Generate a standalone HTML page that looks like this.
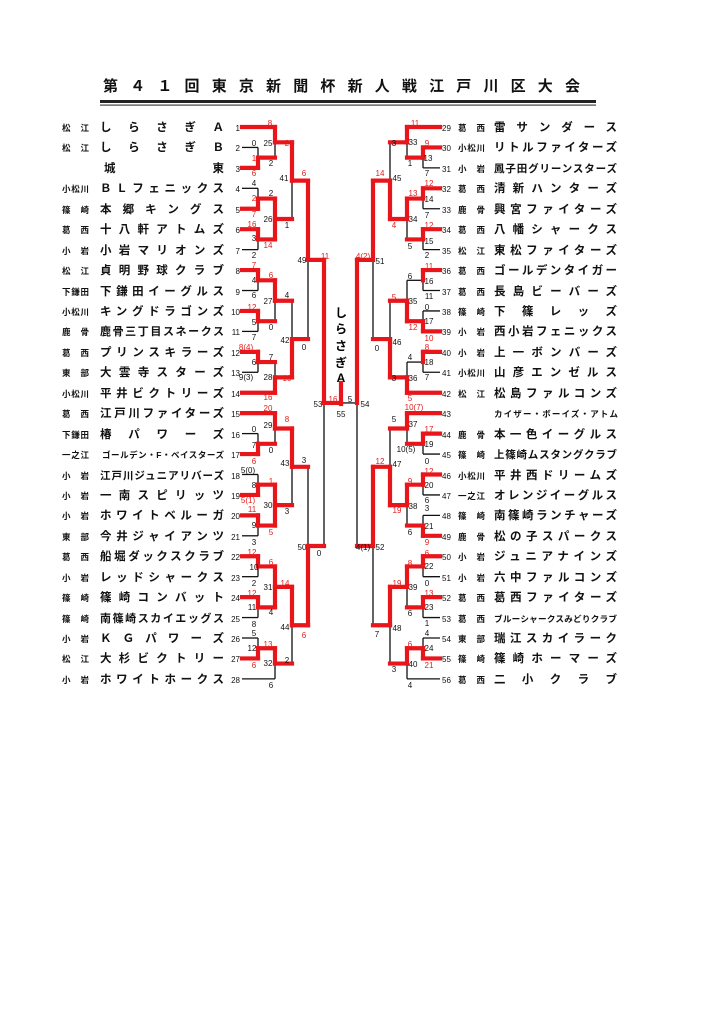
<!DOCTYPE html>
<html><head><meta charset="utf-8">
<style>
html,body{margin:0;padding:0;background:#fff;}
svg{display:block;}
text{font-family:"Liberation Sans","Noto Sans CJK JP",sans-serif;}
.t{font-size:15px;font-weight:bold;fill:#111;}
.p{font-size:8.5px;font-weight:bold;fill:#111;}
.n{font-size:11.5px;font-weight:bold;fill:#111;}
.s{font-size:7.5px;fill:#111;}
.num{font-size:8px;fill:#111;}
.sc{font-size:8px;text-anchor:middle;fill:#111;}
.r{fill:#e0201c;}
</style></head>
<body>
<svg id="sv" width="724" height="1024" viewBox="0 0 724 1024" xmlns="http://www.w3.org/2000/svg">
<rect width="724" height="1024" fill="#fff"/>
<text class="t" x="103" y="91" textLength="477" lengthAdjust="spacing">第４１回東京新聞杯新人戦江戸川区大会</text>
<rect x="100" y="100" width="496" height="3" fill="#222"/>
<rect x="100" y="104.5" width="496" height="1.2" fill="#444"/>
<g id="lines"></g>
<!-- left teams -->
<g>
<text class="p" x="62" y="131" textLength="27" lengthAdjust="spacing">松江</text><text class="n" x="100" y="131" textLength="124" lengthAdjust="spacing">しらさぎＡ</text><text class="num" x="240" y="131" text-anchor="end">1</text>
<text class="p" x="62" y="151" textLength="27" lengthAdjust="spacing">松江</text><text class="n" x="100" y="151" textLength="124" lengthAdjust="spacing">しらさぎＢ</text><text class="num" x="240" y="151" text-anchor="end">2</text>
<text class="n" x="104" y="172" textLength="120" lengthAdjust="spacing">城東</text><text class="num" x="240" y="172" text-anchor="end">3</text>
<text class="p" x="62" y="192" textLength="27" lengthAdjust="spacing">小松川</text><text class="n" x="100" y="192" textLength="124" lengthAdjust="spacing">ＢＬフェニックス</text><text class="num" x="240" y="192" text-anchor="end">4</text>
<text class="p" x="62" y="213" textLength="27" lengthAdjust="spacing">篠崎</text><text class="n" x="100" y="213" textLength="124" lengthAdjust="spacing">本郷キングス</text><text class="num" x="240" y="213" text-anchor="end">5</text>
<text class="p" x="62" y="233" textLength="27" lengthAdjust="spacing">葛西</text><text class="n" x="100" y="233" textLength="124" lengthAdjust="spacing">十八軒アトムズ</text><text class="num" x="240" y="233" text-anchor="end">6</text>
<text class="p" x="62" y="254" textLength="27" lengthAdjust="spacing">小岩</text><text class="n" x="100" y="254" textLength="124" lengthAdjust="spacing">小岩マリオンズ</text><text class="num" x="240" y="254" text-anchor="end">7</text>
<text class="p" x="62" y="274" textLength="27" lengthAdjust="spacing">松江</text><text class="n" x="100" y="274" textLength="124" lengthAdjust="spacing">貞明野球クラブ</text><text class="num" x="240" y="274" text-anchor="end">8</text>
<text class="p" x="62" y="295" textLength="27" lengthAdjust="spacing">下鎌田</text><text class="n" x="100" y="295" textLength="124" lengthAdjust="spacing">下鎌田イーグルス</text><text class="num" x="240" y="295" text-anchor="end">9</text>
<text class="p" x="62" y="315" textLength="27" lengthAdjust="spacing">小松川</text><text class="n" x="100" y="315" textLength="124" lengthAdjust="spacing">キングドラゴンズ</text><text class="num" x="240" y="315" text-anchor="end">10</text>
<text class="p" x="62" y="335" textLength="27" lengthAdjust="spacing">鹿骨</text><text class="n" x="100" y="335" textLength="124" lengthAdjust="spacing" style="font-size:11px">鹿骨三丁目スネークス</text><text class="num" x="240" y="335" text-anchor="end">11</text>
<text class="p" x="62" y="356" textLength="27" lengthAdjust="spacing">葛西</text><text class="n" x="100" y="356" textLength="124" lengthAdjust="spacing">プリンスキラーズ</text><text class="num" x="240" y="356" text-anchor="end">12</text>
<text class="p" x="62" y="376" textLength="27" lengthAdjust="spacing">東部</text><text class="n" x="100" y="376" textLength="124" lengthAdjust="spacing">大雲寺スターズ</text><text class="num" x="240" y="376" text-anchor="end">13</text>
<text class="p" x="62" y="397" textLength="27" lengthAdjust="spacing">小松川</text><text class="n" x="100" y="397" textLength="124" lengthAdjust="spacing">平井ビクトリーズ</text><text class="num" x="240" y="397" text-anchor="end">14</text>
<text class="p" x="62" y="417" textLength="27" lengthAdjust="spacing">葛西</text><text class="n" x="100" y="417" textLength="124" lengthAdjust="spacing">江戸川ファイターズ</text><text class="num" x="240" y="417" text-anchor="end">15</text>
<text class="p" x="62" y="438" textLength="27" lengthAdjust="spacing">下鎌田</text><text class="n" x="100" y="438" textLength="124" lengthAdjust="spacing">椿パワーズ</text><text class="num" x="240" y="438" text-anchor="end">16</text>
<text class="p" x="62" y="458" textLength="27" lengthAdjust="spacing">一之江</text><text class="n" x="102" y="458" textLength="122" lengthAdjust="spacing" style="font-size:8.5px">ゴールデン・F・ベイスターズ</text><text class="num" x="240" y="458" text-anchor="end">17</text>
<text class="p" x="62" y="479" textLength="27" lengthAdjust="spacing">小岩</text><text class="n" x="100" y="479" textLength="124" lengthAdjust="spacing" style="font-size:10.5px">江戸川ジュニアリバーズ</text><text class="num" x="240" y="479" text-anchor="end">18</text>
<text class="p" x="62" y="499" textLength="27" lengthAdjust="spacing">小岩</text><text class="n" x="100" y="499" textLength="124" lengthAdjust="spacing">一南スピリッツ</text><text class="num" x="240" y="499" text-anchor="end">19</text>
<text class="p" x="62" y="519" textLength="27" lengthAdjust="spacing">小岩</text><text class="n" x="100" y="519" textLength="124" lengthAdjust="spacing">ホワイトベルーガ</text><text class="num" x="240" y="519" text-anchor="end">20</text>
<text class="p" x="62" y="540" textLength="27" lengthAdjust="spacing">東部</text><text class="n" x="100" y="540" textLength="124" lengthAdjust="spacing">今井ジャイアンツ</text><text class="num" x="240" y="540" text-anchor="end">21</text>
<text class="p" x="62" y="560" textLength="27" lengthAdjust="spacing">葛西</text><text class="n" x="100" y="560" textLength="124" lengthAdjust="spacing">船堀ダックスクラブ</text><text class="num" x="240" y="560" text-anchor="end">22</text>
<text class="p" x="62" y="581" textLength="27" lengthAdjust="spacing">小岩</text><text class="n" x="100" y="581" textLength="124" lengthAdjust="spacing">レッドシャークス</text><text class="num" x="240" y="581" text-anchor="end">23</text>
<text class="p" x="62" y="601" textLength="27" lengthAdjust="spacing">篠崎</text><text class="n" x="100" y="601" textLength="124" lengthAdjust="spacing">篠崎コンバット</text><text class="num" x="240" y="601" text-anchor="end">24</text>
<text class="p" x="62" y="622" textLength="27" lengthAdjust="spacing">篠崎</text><text class="n" x="100" y="622" textLength="124" lengthAdjust="spacing" style="font-size:11px">南篠崎スカイエッグス</text><text class="num" x="240" y="622" text-anchor="end">25</text>
<text class="p" x="62" y="642" textLength="27" lengthAdjust="spacing">小岩</text><text class="n" x="100" y="642" textLength="124" lengthAdjust="spacing">ＫＧパワーズ</text><text class="num" x="240" y="642" text-anchor="end">26</text>
<text class="p" x="62" y="662" textLength="27" lengthAdjust="spacing">松江</text><text class="n" x="100" y="662" textLength="124" lengthAdjust="spacing">大杉ビクトリー</text><text class="num" x="240" y="662" text-anchor="end">27</text>
<text class="p" x="62" y="683" textLength="27" lengthAdjust="spacing">小岩</text><text class="n" x="100" y="683" textLength="124" lengthAdjust="spacing">ホワイトホークス</text><text class="num" x="240" y="683" text-anchor="end">28</text>
</g>
<!-- right teams -->
<g>
<text class="num" x="442" y="131">29</text><text class="p" x="458" y="131" textLength="27" lengthAdjust="spacing">葛西</text><text class="n" x="494" y="131" textLength="123" lengthAdjust="spacing">雷サンダース</text>
<text class="num" x="442" y="151">30</text><text class="p" x="458" y="151" textLength="27" lengthAdjust="spacing">小松川</text><text class="n" x="494" y="151" textLength="123" lengthAdjust="spacing">リトルファイターズ</text>
<text class="num" x="442" y="172">31</text><text class="p" x="458" y="172" textLength="27" lengthAdjust="spacing">小岩</text><text class="n" x="494" y="172" textLength="123" lengthAdjust="spacing" style="font-size:10.5px">鳳子田グリーンスターズ</text>
<text class="num" x="442" y="192">32</text><text class="p" x="458" y="192" textLength="27" lengthAdjust="spacing">葛西</text><text class="n" x="494" y="192" textLength="123" lengthAdjust="spacing">清新ハンターズ</text>
<text class="num" x="442" y="213">33</text><text class="p" x="458" y="213" textLength="27" lengthAdjust="spacing">鹿骨</text><text class="n" x="494" y="213" textLength="123" lengthAdjust="spacing">興宮ファイターズ</text>
<text class="num" x="442" y="233">34</text><text class="p" x="458" y="233" textLength="27" lengthAdjust="spacing">葛西</text><text class="n" x="494" y="233" textLength="123" lengthAdjust="spacing">八幡シャークス</text>
<text class="num" x="442" y="254">35</text><text class="p" x="458" y="254" textLength="27" lengthAdjust="spacing">松江</text><text class="n" x="494" y="254" textLength="123" lengthAdjust="spacing">東松ファイターズ</text>
<text class="num" x="442" y="274">36</text><text class="p" x="458" y="274" textLength="27" lengthAdjust="spacing">葛西</text><text class="n" x="494" y="274" textLength="123" lengthAdjust="spacing">ゴールデンタイガー</text>
<text class="num" x="442" y="295">37</text><text class="p" x="458" y="295" textLength="27" lengthAdjust="spacing">葛西</text><text class="n" x="494" y="295" textLength="123" lengthAdjust="spacing">長島ビーバーズ</text>
<text class="num" x="442" y="315">38</text><text class="p" x="458" y="315" textLength="27" lengthAdjust="spacing">篠崎</text><text class="n" x="494" y="315" textLength="123" lengthAdjust="spacing">下篠レッズ</text>
<text class="num" x="442" y="335">39</text><text class="p" x="458" y="335" textLength="27" lengthAdjust="spacing">小岩</text><text class="n" x="494" y="335" textLength="123" lengthAdjust="spacing">西小岩フェニックス</text>
<text class="num" x="442" y="356">40</text><text class="p" x="458" y="356" textLength="27" lengthAdjust="spacing">小岩</text><text class="n" x="494" y="356" textLength="123" lengthAdjust="spacing">上一ボンバーズ</text>
<text class="num" x="442" y="376">41</text><text class="p" x="458" y="376" textLength="27" lengthAdjust="spacing">小松川</text><text class="n" x="494" y="376" textLength="123" lengthAdjust="spacing">山彦エンゼルス</text>
<text class="num" x="442" y="397">42</text><text class="p" x="458" y="397" textLength="27" lengthAdjust="spacing">松江</text><text class="n" x="494" y="397" textLength="123" lengthAdjust="spacing">松島ファルコンズ</text>
<text class="num" x="442" y="417">43</text><text class="n" x="494" y="417" textLength="124" lengthAdjust="spacing" style="font-size:8.5px">カイザー・ボーイズ・アトム</text>
<text class="num" x="442" y="438">44</text><text class="p" x="458" y="438" textLength="27" lengthAdjust="spacing">鹿骨</text><text class="n" x="494" y="438" textLength="123" lengthAdjust="spacing">本一色イーグルス</text>
<text class="num" x="442" y="458">45</text><text class="p" x="458" y="458" textLength="27" lengthAdjust="spacing">篠崎</text><text class="n" x="494" y="458" textLength="123" lengthAdjust="spacing" style="font-size:10.5px">上篠崎ムスタングクラブ</text>
<text class="num" x="442" y="479">46</text><text class="p" x="458" y="479" textLength="27" lengthAdjust="spacing">小松川</text><text class="n" x="494" y="479" textLength="123" lengthAdjust="spacing">平井西ドリームズ</text>
<text class="num" x="442" y="499">47</text><text class="p" x="458" y="499" textLength="27" lengthAdjust="spacing">一之江</text><text class="n" x="494" y="499" textLength="123" lengthAdjust="spacing">オレンジイーグルス</text>
<text class="num" x="442" y="519">48</text><text class="p" x="458" y="519" textLength="27" lengthAdjust="spacing">篠崎</text><text class="n" x="494" y="519" textLength="123" lengthAdjust="spacing">南篠崎ランチャーズ</text>
<text class="num" x="442" y="540">49</text><text class="p" x="458" y="540" textLength="27" lengthAdjust="spacing">鹿骨</text><text class="n" x="494" y="540" textLength="123" lengthAdjust="spacing">松の子スパークス</text>
<text class="num" x="442" y="560">50</text><text class="p" x="458" y="560" textLength="27" lengthAdjust="spacing">小岩</text><text class="n" x="494" y="560" textLength="123" lengthAdjust="spacing">ジュニアナインズ</text>
<text class="num" x="442" y="581">51</text><text class="p" x="458" y="581" textLength="27" lengthAdjust="spacing">小岩</text><text class="n" x="494" y="581" textLength="123" lengthAdjust="spacing">六中ファルコンズ</text>
<text class="num" x="442" y="601">52</text><text class="p" x="458" y="601" textLength="27" lengthAdjust="spacing">葛西</text><text class="n" x="494" y="601" textLength="123" lengthAdjust="spacing">葛西ファイターズ</text>
<text class="num" x="442" y="622">53</text><text class="p" x="458" y="622" textLength="27" lengthAdjust="spacing">葛西</text><text class="n" x="494" y="622" textLength="123" lengthAdjust="spacing" style="font-size:8.6px">ブルーシャークスみどりクラブ</text>
<text class="num" x="442" y="642">54</text><text class="p" x="458" y="642" textLength="27" lengthAdjust="spacing">東部</text><text class="n" x="494" y="642" textLength="123" lengthAdjust="spacing">瑞江スカイラーク</text>
<text class="num" x="442" y="662">55</text><text class="p" x="458" y="662" textLength="27" lengthAdjust="spacing">篠崎</text><text class="n" x="494" y="662" textLength="123" lengthAdjust="spacing">篠崎ホーマーズ</text>
<text class="num" x="442" y="683">56</text><text class="p" x="458" y="683" textLength="27" lengthAdjust="spacing">葛西</text><text class="n" x="494" y="683" textLength="123" lengthAdjust="spacing">二小クラブ</text>
</g>
<!-- champion vertical -->
<g style="font-size:12px;font-weight:bold" text-anchor="middle">
<text x="341" y="317">し</text><text x="341" y="333">ら</text><text x="341" y="350">さ</text><text x="341" y="367">ぎ</text><text x="341" y="382">A</text>
</g>
<!-- scores -->
<g>
<text class="sc r" x="270" y="126">8</text><text class="sc" x="254" y="146">0</text><text class="sc" x="268" y="146">25</text><text class="sc r" x="287" y="146">2</text>
<text class="sc r" x="254" y="161">1</text><text class="sc" x="271" y="166">2</text><text class="sc r" x="254" y="176">6</text><text class="sc" x="284" y="181">41</text><text class="sc r" x="304" y="176">6</text>
<text class="sc" x="254" y="186">4</text><text class="sc r" x="254" y="201">2</text><text class="sc" x="271" y="196">2</text><text class="sc r" x="254" y="217">7</text><text class="sc" x="268" y="222">26</text><text class="sc" x="287" y="228">1</text>
<text class="sc r" x="252" y="227">16</text><text class="sc" x="254" y="241">3</text><text class="sc r" x="268" y="248">14</text><text class="sc" x="254" y="258">2</text><text class="sc" x="302" y="263">49</text><text class="sc r" x="325" y="259">11</text>
<text class="sc r" x="254" y="268">7</text><text class="sc" x="254" y="283">4</text><text class="sc r" x="271" y="278">6</text><text class="sc" x="254" y="298">6</text><text class="sc" x="268" y="304">27</text><text class="sc" x="287" y="298">4</text>
<text class="sc r" x="252" y="310">12</text><text class="sc" x="254" y="325">5</text><text class="sc" x="271" y="330">0</text><text class="sc" x="254" y="340">7</text><text class="sc" x="285" y="343">42</text><text class="sc" x="304" y="350">0</text>
<text class="sc r" x="246" y="350">8(4)</text><text class="sc" x="254" y="365">6</text><text class="sc" x="271" y="360">7</text><text class="sc" x="246" y="380">9(3)</text><text class="sc" x="268" y="380">28</text><text class="sc r" x="287" y="381">10</text><text class="sc r" x="268" y="400">16</text>
<text class="sc r" x="268" y="411">20</text><text class="sc" x="268" y="428">29</text><text class="sc r" x="287" y="422">8</text><text class="sc" x="254" y="432">0</text><text class="sc" x="254" y="448">7</text><text class="sc" x="271" y="453">0</text><text class="sc r" x="254" y="464">6</text>
<text class="sc" x="285" y="466">43</text><text class="sc" x="304" y="463">3</text><text class="sc" x="248" y="473">5(0)</text><text class="sc r" x="271" y="484">1</text><text class="sc" x="254" y="488">8</text><text class="sc r" x="248" y="503">5(1)</text>
<text class="sc" x="268" y="508">30</text><text class="sc" x="287" y="514">3</text><text class="sc r" x="252" y="512">11</text><text class="sc" x="254" y="528">9</text><text class="sc r" x="271" y="535">5</text><text class="sc" x="254" y="545">3</text>
<text class="sc" x="302" y="550">50</text><text class="sc" x="319" y="556">0</text><text class="sc r" x="252" y="555">12</text><text class="sc r" x="271" y="565">6</text><text class="sc" x="254" y="570">10</text><text class="sc" x="254" y="586">2</text>
<text class="sc r" x="285" y="586">14</text><text class="sc" x="268" y="590">31</text><text class="sc r" x="252" y="596">12</text><text class="sc" x="252" y="610">11</text><text class="sc" x="271" y="615">4</text><text class="sc" x="254" y="627">8</text>
<text class="sc" x="285" y="630">44</text><text class="sc r" x="304" y="638">6</text><text class="sc" x="254" y="636">5</text><text class="sc" x="252" y="651">12</text><text class="sc r" x="268" y="647">13</text><text class="sc" x="287" y="663">2</text>
<text class="sc r" x="254" y="668">6</text><text class="sc" x="268" y="666">32</text><text class="sc" x="271" y="688">6</text>
<text class="sc" x="318" y="407">53</text><text class="sc r" x="333" y="402">16</text><text class="sc" x="350" y="402">5</text><text class="sc" x="341" y="417">55</text><text class="sc" x="365" y="407">54</text>
<text class="sc r" x="415" y="126">11</text><text class="sc" x="394" y="146">3</text><text class="sc" x="413" y="145">33</text><text class="sc r" x="427" y="146">9</text><text class="sc" x="428" y="161">13</text><text class="sc" x="410" y="166">1</text>
<text class="sc" x="427" y="176">7</text><text class="sc r" x="380" y="176">14</text><text class="sc" x="397" y="181">45</text><text class="sc r" x="429" y="186">12</text><text class="sc r" x="413" y="196">13</text><text class="sc" x="429" y="202">14</text>
<text class="sc" x="427" y="218">7</text><text class="sc" x="413" y="222">34</text><text class="sc r" x="394" y="228">4</text><text class="sc r" x="429" y="228">12</text><text class="sc" x="429" y="244">15</text><text class="sc" x="410" y="249">5</text>
<text class="sc" x="427" y="258">2</text><text class="sc r" x="363" y="259">4(2)</text><text class="sc" x="380" y="264">51</text><text class="sc r" x="429" y="269">11</text><text class="sc" x="410" y="279">6</text><text class="sc" x="429" y="284">16</text>
<text class="sc" x="429" y="299">11</text><text class="sc r" x="394" y="300">5</text><text class="sc" x="413" y="304">35</text><text class="sc" x="427" y="310">0</text><text class="sc" x="429" y="324">17</text><text class="sc r" x="413" y="330">12</text>
<text class="sc r" x="429" y="341">10</text><text class="sc" x="397" y="345">46</text><text class="sc" x="377" y="351">0</text><text class="sc r" x="427" y="350">8</text><text class="sc" x="410" y="360">4</text><text class="sc" x="429" y="365">18</text>
<text class="sc" x="394" y="381">3</text><text class="sc" x="413" y="381">36</text><text class="sc" x="427" y="380">7</text><text class="sc r" x="410" y="401">5</text>
<text class="sc r" x="414" y="410">10(7)</text><text class="sc" x="394" y="422">5</text><text class="sc" x="413" y="427">37</text><text class="sc r" x="429" y="432">17</text><text class="sc" x="406" y="452">10(5)</text><text class="sc" x="429" y="447">19</text>
<text class="sc" x="427" y="464">0</text><text class="sc r" x="380" y="464">12</text><text class="sc" x="397" y="467">47</text><text class="sc r" x="429" y="474">12</text><text class="sc r" x="410" y="484">9</text><text class="sc" x="429" y="488">20</text>
<text class="sc" x="427" y="503">6</text><text class="sc r" x="397" y="513">19</text><text class="sc" x="413" y="509">38</text><text class="sc" x="427" y="511">3</text><text class="sc" x="429" y="529">21</text><text class="sc" x="410" y="535">6</text>
<text class="sc r" x="427" y="545">9</text><text class="sc" x="363" y="550">4(1)</text><text class="sc" x="380" y="550">52</text><text class="sc r" x="427" y="556">6</text><text class="sc r" x="410" y="566">8</text><text class="sc" x="429" y="569">22</text>
<text class="sc" x="427" y="586">0</text><text class="sc r" x="397" y="586">19</text><text class="sc" x="413" y="590">39</text><text class="sc r" x="429" y="596">13</text><text class="sc" x="429" y="610">23</text><text class="sc" x="410" y="616">6</text>
<text class="sc" x="427" y="626">1</text><text class="sc" x="377" y="637">7</text><text class="sc" x="397" y="631">48</text><text class="sc" x="427" y="636">4</text><text class="sc" x="429" y="651">24</text><text class="sc r" x="410" y="647">6</text>
<text class="sc r" x="429" y="668">21</text><text class="sc" x="394" y="672">3</text><text class="sc" x="413" y="667">40</text><text class="sc" x="410" y="688">4</text>
</g>
</svg>
<script>
(function(){
var NS="http://www.w3.org/2000/svg";
function yL(i){return 127+(i-1)*20.44;}
function yR(i){return 127+(i-29)*20.44;}
function lf(y){return {leaf:true,y:y};}
function M(a,b,x,w,o){o=o||{};return {a:a,b:b,x:x,w:w,y:(a.y+b.y)/2,both:!!o.both,out:o.out};}
var segs=[];
function seg(x1,y1,x2,y2,red){segs.push([x1,y1,x2,y2,red]);}
function draw(n,px,won,leafX){
  if(n.leaf){seg(leafX,n.y,px,n.y,won);return;}
  var red=(n.out===undefined)?true:n.out;
  if(won===false&&n.out===false)red=false;
  if(n.forceRed!==undefined)red=n.forceRed;
  seg(n.x,n.y,px,n.y,red);
  seg(n.x,n.a.y,n.x,n.y,n.w===0||n.both);
  seg(n.x,n.y,n.x,n.b.y,n.w===1||n.both);
  draw(n.a,n.x,n.w===0,leafX);
  draw(n.b,n.x,n.w===1,leafX);
}
var L=function(i){return lf(yL(i));}, R=function(i){return lf(yR(i));};
// Left
var A1=M(L(2),L(3),258,1),A2=M(L(1),A1,275,0),A3=M(L(4),L(5),258,1),A4=M(L(6),L(7),258,0),
A5=M(A3,A4,275,0,{both:true}),A6=M(A2,A5,292,0);
var B1=M(L(8),L(9),258,0),B2=M(L(10),L(11),258,0),B3=M(B1,B2,275,0),B4=M(L(12),L(13),258,0),
B5=M(B4,L(14),275,1),B6=M(B3,B5,292,1),B7=M(A6,B6,308,0);
var C1=M(L(16),L(17),258,1),C2=M(L(15),C1,275,0),C3=M(L(18),L(19),258,1),C4=M(L(20),L(21),258,0),
C5=M(C3,C4,275,1,{both:true}),C6=M(C2,C5,292,0);
var D1=M(L(22),L(23),258,0),D2=M(L(24),L(25),258,0),D3=M(D1,D2,275,0,{both:true}),D4=M(L(26),L(27),258,1),
D5=M(D4,L(28),275,0),D6=M(D3,D5,292,0),D7=M(C6,D6,308,1);
var FL=M(B7,D7,324,0);
draw(FL,341,true,242);
// Right
var E1=M(R(30),R(31),423,0),E2=M(R(29),E1,407,0),E3=M(R(32),R(33),423,0),E4=M(R(34),R(35),423,0),
E5=M(E3,E4,407,0),E6=M(E2,E5,390,1);
var G1=M(R(36),R(37),423,0,{out:false}),G2=M(R(38),R(39),423,1),G3=M(G1,G2,407,1),
H1=M(R(40),R(41),423,0,{out:false}),H2=M(H1,R(42),407,1),H3=M(G3,H2,390,1),RT=M(E6,H3,373,0);
var I1=M(R(44),R(45),423,0),I2=M(R(43),I1,407,0),I3=M(R(46),R(47),423,0),I4=M(R(48),R(49),423,1),
I5=M(I3,I4,407,0),I6=M(I2,I5,390,1);
var J1=M(R(50),R(51),423,0),J2=M(R(52),R(53),423,0),J3=M(J1,J2,407,0),J4=M(R(54),R(55),423,1),
J5=M(J4,R(56),407,0),J6=M(J3,J5,390,0),K=M(I6,J6,373,0);
var FR=M(RT,K,357,0);FR.forceRed=false;
draw(FR,341,false,440);
seg(341,383,341,404,true);
var g=document.getElementById('lines');
segs.sort(function(p,q){return (p[4]?1:0)-(q[4]?1:0);});
segs.forEach(function(s){
  var l=document.createElementNS(NS,'line');
  l.setAttribute('x1',s[0]);l.setAttribute('y1',s[1]);l.setAttribute('x2',s[2]);l.setAttribute('y2',s[3]);
  l.setAttribute('stroke',s[4]?'#e8151b':'#111');
  l.setAttribute('stroke-width',s[4]?4.2:1.3);
  l.setAttribute('stroke-linecap',s[4]?'square':'butt');
  g.appendChild(l);
});
})();
</script>
</body></html>
